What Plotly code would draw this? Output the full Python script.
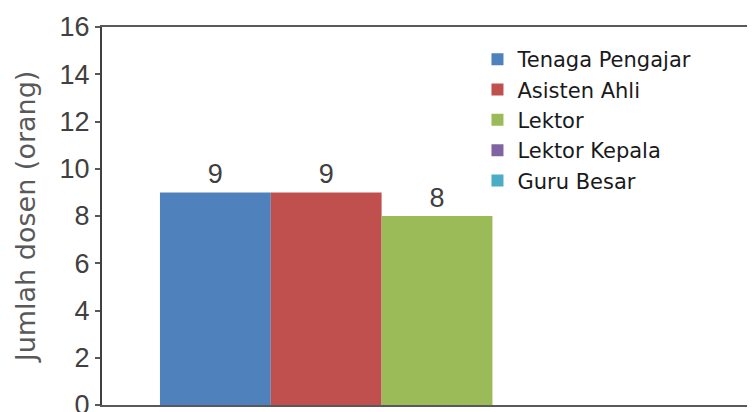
import plotly.graph_objects as go

series = ["Tenaga Pengajar", "Asisten Ahli", "Lektor", "Lektor Kepala", "Guru Besar"]
values = [9, 9, 8, 0, 0]
colors = ["#4F81BD", "#C0504D", "#9BBB59", "#8064A2", "#4BACC6"]
category = ["Jabatan"]
y_ticks = [0, 2, 4, 6, 8, 10, 12, 14, 16]

fig = go.Figure()
for name, v, c in zip(series, values, colors):
    fig.add_trace(go.Bar(
        name=name, x=category, y=[v], legendgroup=name,
        marker=dict(color=c, line=dict(width=0)),
        text=[str(v) if v else ""], textposition="outside",
        textfont=dict(size=27, color="#404040", family="Liberation Sans"),
        cliponaxis=False,
    ))

fig.update_layout(
    width=747, height=404,
    margin=dict(l=94, r=0, t=19, b=7),
    paper_bgcolor="white", plot_bgcolor="white",
    barmode="group", bargap=0.173, bargroupgap=0,
    font=dict(family="Liberation Sans", color="#404040"),
    showlegend=True,
    legend=dict(x=0.575, y=0.968, xanchor="left", yanchor="top",
                font=dict(size=21, color="#1a1a1a", family="DejaVu Sans"),
                itemwidth=30, traceorder="grouped", tracegroupgap=0,
                bgcolor="rgba(0,0,0,0)"),
    xaxis=dict(range=[-0.5, 0.4746], showticklabels=False, ticks="",
               showline=True, linecolor="#595959", linewidth=2, mirror=True,
               showgrid=False, zeroline=False, automargin=False),
    yaxis=dict(range=[0, 16], tickvals=y_ticks, ticks="outside", ticklen=5,
               tickcolor="#595959", tickwidth=1.5,
               ticklabeloverflow="allow", automargin=False,
               tickfont=dict(size=27, color="#404040", family="Liberation Sans"),
               showline=True, linecolor="#404040", linewidth=2,
               showgrid=False, zeroline=False,
               title=dict(text="Jumlah dosen (orang)", standoff=16,
                          font=dict(size=27, color="#595959", family="DejaVu Sans"))),
)

fig.write_html("out.html")
